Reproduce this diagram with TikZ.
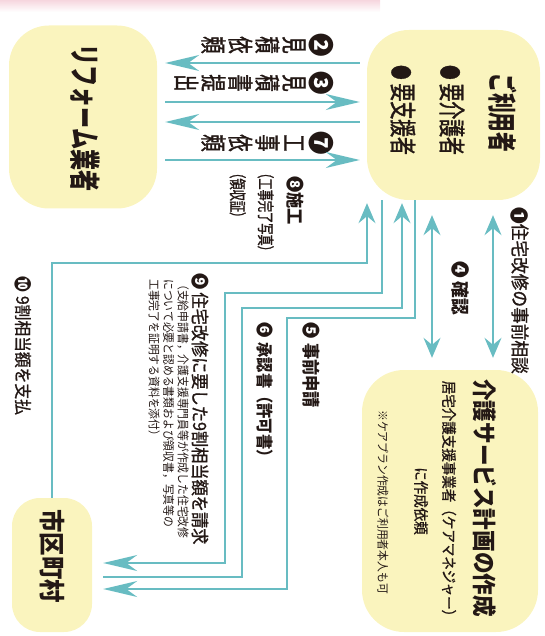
\documentclass[tikz,border=0pt]{standalone}
\usepackage{fontspec}
\usetikzlibrary{arrows.meta}
\newfontfamily\jpn{Noto Sans CJK JP}[FakeStretch=0.9]
\newfontfamily\jpm{Noto Sans CJK JP}[FakeStretch=0.9,FakeBold=1.2]
\newfontfamily\jpc{Noto Sans CJK JP}[FakeStretch=0.68]
\newfontfamily\jpcm{Noto Sans CJK JP}[FakeStretch=0.66,FakeBold=1.4]
\newcommand\cnum[1]{{\jpn\bfseries #1}}
\definecolor{boxyellow}{RGB}{250,244,190}
\definecolor{flowteal}{RGB}{104,188,194}
\definecolor{inkblack}{RGB}{35,24,21}
\definecolor{pinkhaze}{RGB}{246,214,222}
\begin{document}
\begin{tikzpicture}[x=1pt,y=-1pt,
  box/.style={fill=boxyellow,rounded corners=#1,inner sep=0pt},
  yoko/.style={rotate=-90,inner sep=0pt,text=inkblack},
  tate/.style={rotate=-90,anchor=north,align=center,inner sep=0pt,text=inkblack,
    font=\jpcm\fontsize{26}{27}\selectfont},
  flow/.style={draw=flowteal,line width=1.6pt},
  harrow/.style={-{Stealth[length=34pt,width=16pt,inset=11pt]}},
  varrow/.style={-{Stealth[length=20pt,width=17pt,inset=7pt]}},
  dvarrow/.style={{Stealth[length=20pt,width=17pt,inset=7pt]}-{Stealth[length=20pt,width=17pt,inset=7pt]}}]
  \useasboundingbox (0,0) rectangle (545,636);
  \shade[top color=pinkhaze,bottom color=white] (0,0) rectangle (380,12);

  \node[box=40pt,minimum width=148pt,minimum height=183pt] (reform) at (83,117) {};
  \node[box=42pt,minimum width=173pt,minimum height=170pt] (user) at (453.5,115) {};
  \node[box=42pt,minimum width=176pt,minimum height=262pt] (care) at (450,501) {};
  \node[box=28pt,minimum width=80pt,minimum height=134pt] (munic) at (52,565) {};

  \node[yoko,font=\jpc\bfseries\fontsize{31}{31}\selectfont] (reformname) at (85,118) {リフォーム業者};
  \node[yoko,font=\jpc\bfseries\fontsize{29}{29}\selectfont] (usertitle) at (503,113) {ご利用者};
  \node[yoko,font=\jpcm\fontsize{27}{27}\selectfont] (usercare) at (452,110) {{\fontsize{22}{22}\selectfont●}\hspace{4pt}要介護者};
  \node[yoko,font=\jpcm\fontsize{27}{27}\selectfont] (usersupport) at (403,110) {{\fontsize{22}{22}\selectfont●}\hspace{4pt}要支援者};
  \node[yoko,font=\jpn\bfseries\fontsize{24}{24}\selectfont] (caretitle) at (485,498) {介護サービス計画の作成};
  \node[yoko,font=\jpm\fontsize{15}{15}\selectfont] (caremanager) at (449,502) {居宅介護支援事業者（ケアマネジャー）};
  \node[yoko,font=\jpm\fontsize{15}{15}\selectfont] (carerequest) at (421,501) {に作成依頼};
  \node[yoko,font=\jpn\fontsize{12}{12}\selectfont] (carenote) at (383,502) {※ケアプラン作成はご利用者本人も可};
  \node[yoko,font=\jpn\bfseries\fontsize{26}{26}\selectfont] (municname) at (52,556) {市区町村};

  \node[tate] (estimate) at (334,45) {\cnum{❷}\\見\\積\\依\\頼};
  \node[tate] (quote) at (334,83) {\cnum{❸}\\見\\積\\書\\提\\出};
  \node[tate] (order) at (334,143) {\cnum{❼}\\工\\事\\依\\頼};
  \node[yoko,anchor=west,font=\jpn\bfseries\fontsize{18}{18}\selectfont] (work) at (295,176) {❽施工};
  \node[yoko,anchor=north west,align=left,font=\jpcm\fontsize{17}{28}\selectfont] (workdocs) at (274,167) {（工事完了写真）\\（領収証）};
  \node[yoko,anchor=west,font=\jpm\fontsize{18.5}{18.5}\selectfont] (consult) at (520,207) {\cnum{❶}住宅改修の事前相談};
  \node[yoko,anchor=west,font=\jpn\bfseries\fontsize{18.5}{18.5}\selectfont] (confirm) at (461,261) {❹\hspace{4pt}確認};
  \node[yoko,anchor=west,font=\jpn\bfseries\fontsize{18}{18}\selectfont] (apply) at (311,322) {❺\hspace{5pt}事前申請};
  \node[yoko,anchor=west,font=\jpn\bfseries\fontsize{17}{17}\selectfont] (approve) at (265,322) {❻\hspace{5pt}承認書（許可書）};
  \node[yoko,anchor=west,font=\jpm\fontsize{18}{18}\selectfont] (claim) at (200,273) {\cnum{❾}\hspace{3pt}住宅改修に要した9割相当額を請求};
  \node[yoko,anchor=north west,align=left,font=\jpn\fontsize{12}{14.5}\selectfont] (claimdocs) at (189,279)
    {（支給申請書，介護支援専門員等が作成した住宅改修\\について必要と認める書類および領収書，写真等の\\工事完了を証明する資料を添付）};
  \node[yoko,anchor=west,font=\jpm\fontsize{17.5}{17.5}\selectfont] (payment) at (23,276) {\cnum{❿}\hspace{4pt}9割相当額を支払};

  \draw[flow,harrow,shorten <=7pt,shorten >=8pt] (user.west |- 0,63) -- (reform.east |- 0,63);
  \draw[flow,harrow,shorten <=8pt,shorten >=7pt] (reform.east |- 0,102) -- (user.west |- 0,102);
  \draw[flow,harrow,shorten <=7pt,shorten >=8pt] (user.west |- 0,122) -- (reform.east |- 0,122);
  \draw[flow,harrow,shorten <=8pt,shorten >=7pt] (reform.east |- 0,160) -- (user.west |- 0,160);
  \draw[flow,dvarrow,shorten <=15pt,shorten >=12pt] (user.south -| 493,0) -- (care.north -| 493,0);
  \draw[flow,dvarrow,shorten <=15pt,shorten >=12pt] (user.south -| 432,0) -- (care.north -| 432,0);
  \draw[flow,varrow,shorten >=3pt] (munic.north) |- (367,263) -- (user.south -| 367,0);
  \draw[flow,harrow,shorten >=11pt] (user.south -| 382,0) |- (225,293) |- (munic.east |- 0,563);
  \draw[flow,varrow,shorten <=11pt,shorten >=3pt] (munic.east |- 0,577) -| (242,308) -| (user.south -| 402,0);
  \draw[flow,harrow,shorten >=11pt] (user.south -| 415,0) |- (287,318) |- (munic.east |- 0,589);
\end{tikzpicture}
\end{document}
